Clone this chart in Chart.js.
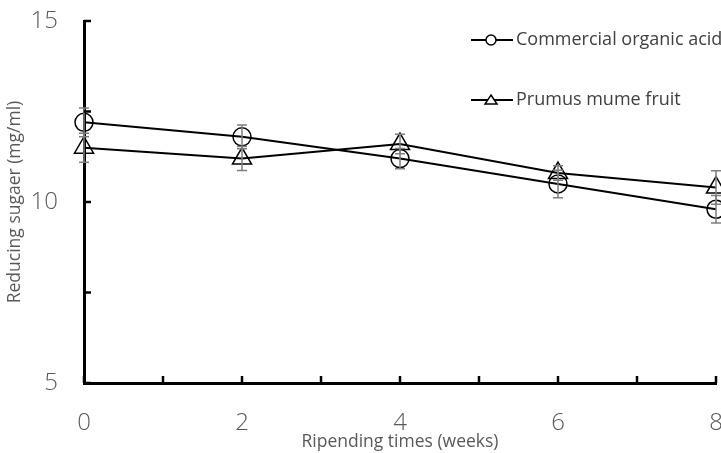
<!DOCTYPE html>
<html>
<head>
<meta charset="utf-8">
<script src="https://cdn.jsdelivr.net/npm/chart.js@4/dist/chart.umd.min.js"></script>
<style>
  html, body { margin: 0; padding: 0; background: #fff; }
  #wrap { width: 721px; height: 453px; }
</style>
</head>
<body>
<div id="wrap"><canvas id="c"></canvas></div>
<script>
const weeks = [0, 2, 4, 6, 8]
const commercial = [12.2, 11.8, 11.2, 10.5, 9.8]
const commercialErr = [0.4, 0.33, 0.28, 0.38, 0.38]
const prunus = [11.5, 11.2, 11.6, 10.8, 10.4]
const prunusErr = [0.4, 0.33, 0.27, 0.2, 0.46]
const xTicks = [0, 1, 2, 3, 4, 5, 6, 7, 8]
const yTicks = [5, 7.5, 10, 12.5, 15]
const seriesNames = ['Commercial organic acid', 'Prumus mume fruit']

const FONT = "'Open Sans', 'Noto Sans', sans-serif"

const toPoints = (vals) => weeks.map((w, i) => ({x: w, y: vals[i]}))

// error bars + inward tick marks + legend
const extras = {
  id: 'extras',
  afterDatasetsDraw(chart) {
    const {ctx, scales: {x, y}, chartArea} = chart
    ctx.save()
    // error bars
    ctx.strokeStyle = '#7f7f7f'
    ctx.lineWidth = 1.5
    const errs = [commercialErr, prunusErr]
    const vals = [commercial, prunus]
    vals.forEach((v, s) => {
      weeks.forEach((w, i) => {
        const px = x.getPixelForValue(w)
        const top = y.getPixelForValue(v[i] + errs[s][i])
        const bot = y.getPixelForValue(v[i] - errs[s][i])
        ctx.beginPath()
        ctx.moveTo(px, top); ctx.lineTo(px, bot)
        ctx.moveTo(px - 5, top); ctx.lineTo(px + 5, top)
        ctx.moveTo(px - 5, bot); ctx.lineTo(px + 5, bot)
        ctx.stroke()
      })
    })
    // inward ticks
    ctx.strokeStyle = '#000'
    ctx.lineWidth = 2.5
    xTicks.forEach(t => {
      const px = x.getPixelForValue(t)
      ctx.beginPath()
      ctx.moveTo(px, chartArea.bottom); ctx.lineTo(px, chartArea.bottom - 7)
      ctx.stroke()
    })
    yTicks.forEach(t => {
      const py = y.getPixelForValue(t)
      ctx.beginPath()
      ctx.moveTo(chartArea.left, py); ctx.lineTo(chartArea.left + 7, py)
      ctx.stroke()
    })
    // legend
    const items = [
      {name: seriesNames[0], style: 'circle', ly: 40},
      {name: seriesNames[1], style: 'triangle', ly: 100}
    ]
    items.forEach(it => {
      ctx.strokeStyle = '#000'
      ctx.lineWidth = 2
      ctx.beginPath()
      ctx.moveTo(471, it.ly); ctx.lineTo(513, it.ly)
      ctx.stroke()
      ctx.fillStyle = '#fff'
      ctx.lineWidth = 1.5
      ctx.beginPath()
      if (it.style === 'circle') {
        ctx.arc(491, it.ly, 5, 0, Math.PI * 2)
      } else {
        ctx.moveTo(491, it.ly - 5); ctx.lineTo(497, it.ly + 4); ctx.lineTo(485, it.ly + 4); ctx.closePath()
      }
      ctx.fill(); ctx.stroke()
      ctx.fillStyle = '#404040'
      ctx.font = '18px ' + FONT
      ctx.textBaseline = 'middle'
      ctx.textAlign = 'left'
      ctx.fillText(it.name, 516, it.ly)
    })
    ctx.restore()
  }
}

const data = {
  datasets: [
    {
      label: seriesNames[0],
      data: toPoints(commercial),
      borderColor: '#000',
      borderWidth: 2,
      pointStyle: 'circle',
      pointRadius: 9,
      pointBorderWidth: 1.5,
      pointBorderColor: '#000',
      pointBackgroundColor: 'rgba(0,0,0,0)',
      clip: false
    },
    {
      label: seriesNames[1],
      data: toPoints(prunus),
      borderColor: '#000',
      borderWidth: 2,
      pointStyle: 'triangle',
      pointRadius: 11,
      pointBorderWidth: 1.5,
      pointBorderColor: '#000',
      pointBackgroundColor: 'rgba(0,0,0,0)',
      clip: false
    }
  ]
}

const config = {
  type: 'line',
  data: data,
  options: {
    responsive: true,
    maintainAspectRatio: false,
    animation: false,
    layout: { autoPadding: false, padding: {top: 21, right: 5, left: 0, bottom: 0} },
    plugins: {
      legend: {display: false},
      tooltip: {enabled: false}
    },
    scales: {
      x: {
        type: 'linear',
        min: 0, max: 8,
        afterFit: (s) => { s.height = 70; s.paddingLeft = 0; s.paddingRight = 0 },
        grid: {display: false, drawTicks: false},
        border: {display: true, color: '#000', width: 3},
        ticks: {stepSize: 2, padding: 26, color: '#595959', font: {family: FONT, size: 24, weight: 300}},
        title: {display: true, text: 'Ripending times (weeks)', color: '#595959', font: {family: FONT, size: 17.5}, padding: {top: 0, bottom: 0}}
      },
      y: {
        min: 5, max: 15,
        afterFit: (s) => { s.width = 84; s.paddingTop = 0; s.paddingBottom = 0 },
        grid: {display: false, drawTicks: false},
        border: {display: true, color: '#000', width: 3},
        ticks: {stepSize: 5, padding: 26, color: '#595959', font: {family: FONT, size: 24, weight: 300}},
        title: {display: true, text: 'Reducing sugaer (mg/ml)', color: '#595959', font: {family: FONT, size: 17.5}, padding: {top: 5, bottom: 0}}
      }
    }
  },
  plugins: [extras]
}

new Chart(document.getElementById('c'), config)
</script>
</body>
</html>
